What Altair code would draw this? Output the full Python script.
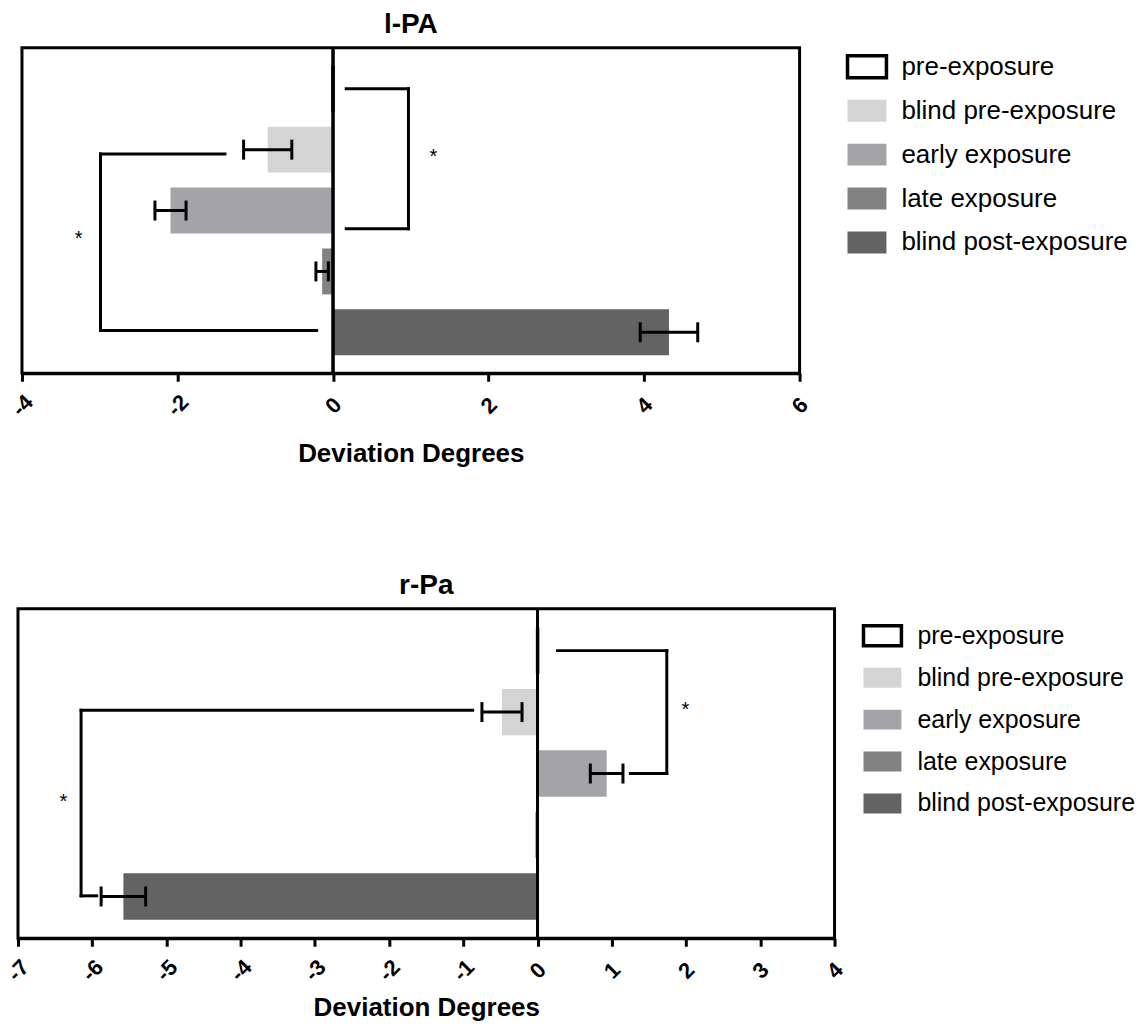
import altair as alt
import pandas as pd

FONT = "Liberation Sans"

categories = ["pre-exposure", "blind pre-exposure", "early exposure", "late exposure", "blind post-exposure"]
fill_colors = ["#ffffff", "#d4d4d4", "#a4a4a8", "#828282", "#636363"]
stroke_colors = ["#000000", "transparent", "transparent", "transparent", "transparent"]

# l-PA panel
lpa_mean = [0.0, -0.84, -2.09, -0.14, 4.32]
lpa_sem = [0.0, 0.31, 0.20, 0.08, 0.37]
lpa_ticks = [-4, -2, 0, 2, 4, 6]
lpa_br_top = [0.0, 1.07]
lpa_br_bottom = [2.3, 3.97]
lpa_br_vx = [0.97, -2.99]
lpa_br_top_end = [0.17, -1.39]
lpa_br_bottom_end = [0.17, -0.21]
lpa_star_x = [1.29, -3.27]
lpa_star_y = [1.08, 2.44]

# r-Pa panel
rpa_mean = [0.0, -0.48, 0.93, -0.03, -5.58]
rpa_sem = [0.0, 0.27, 0.22, 0.0, 0.30]
rpa_ticks = [-7, -6, -5, -4, -3, -2, -1, 0, 1, 2, 3, 4]
rpa_br_top = [0.0, 0.97]
rpa_br_bottom = [2.0, 3.99]
rpa_br_vx = [1.74, -6.15]
rpa_br_top_end = [0.27, -0.875]
rpa_br_bottom_end = [1.25, -5.94]
rpa_star_x = [1.99, -6.39]
rpa_star_y = [0.94, 2.43]


def panel(title, mean, sem, ticks, br_top, br_bottom, br_vx, br_top_end, br_bottom_end,
          star_x, star_y, width, height, ydom, leg_x, leg_y, leg_font, leg_offset,
          sym_path, sym_size, row_pad, title_pad):
    bars = pd.DataFrame({"cat": categories, "idx": list(range(len(categories))),
                         "mean": mean, "sem": sem})
    bars["lo"] = bars["mean"] - bars["sem"]
    bars["hi"] = bars["mean"] + bars["sem"]
    errs = bars[bars["sem"] > 0]

    segs = []
    for t, b, vx, te, be in zip(br_top, br_bottom, br_vx, br_top_end, br_bottom_end):
        segs.append({"x": te, "x2": vx, "y": t, "y2": t})
        segs.append({"x": vx, "x2": vx, "y": t, "y2": b})
        segs.append({"x": be, "x2": vx, "y": b, "y2": b})
    segs = pd.DataFrame(segs)
    stars = pd.DataFrame({"x": star_x, "y": star_y, "t": ["*"] * len(star_x)})

    xscale = alt.Scale(domain=[ticks[0], ticks[-1]], nice=False, zero=False)
    yscale = alt.Scale(domain=ydom, reverse=True, nice=False, zero=False)
    xaxis = alt.Axis(values=ticks, title="Deviation Degrees", grid=False,
                     labelExpr="datum.value < 0 ? '-' + abs(datum.value) : '' + datum.value",
                     labelAngle=-45, labelAlign="center", labelBaseline="middle",
                     labelPadding=24, labelFont=FONT, labelFontSize=22, labelFontWeight="bold",
                     labelColor="black", labelFlush=False, labelOverlap=False,
                     tickColor="black", tickWidth=3, tickSize=8,
                     domainColor="black", domainWidth=3,
                     titleFont=FONT, titleFontSize=26, titleFontWeight="bold",
                     titleColor="black", titlePadding=title_pad)

    leg = dict(title=None, orient="none", legendX=leg_x, legendY=leg_y,
               symbolType=sym_path, symbolSize=sym_size,
               symbolStrokeWidth=3.5, symbolOpacity=1,
               labelFont=FONT, labelFontSize=leg_font, labelColor="black",
               labelOffset=leg_offset, rowPadding=row_pad, padding=0, labelLimit=400)

    rect = alt.Chart(bars).mark_rect(strokeWidth=3.5, opacity=1).transform_calculate(
        y0="datum.idx - 0.377", y1="datum.idx + 0.377", zero="0"
    ).encode(
        x=alt.X("mean:Q", scale=xscale, axis=xaxis),
        x2=alt.X2("zero:Q"),
        y=alt.Y("y0:Q", scale=yscale, axis=None),
        y2="y1:Q",
        fill=alt.Fill("cat:N", scale=alt.Scale(domain=categories, range=fill_colors),
                      legend=alt.Legend(**leg)),
        stroke=alt.Stroke("cat:N", scale=alt.Scale(domain=categories, range=stroke_colors),
                          legend=alt.Legend(**leg)),
    )
    zero_line = alt.Chart(bars).mark_rule(color="black", strokeWidth=2.5).encode(
        x=alt.X(datum=0, scale=xscale, axis=xaxis)
    )
    err_line = alt.Chart(errs).mark_rule(color="black", strokeWidth=3).encode(
        x=alt.X("lo:Q", scale=xscale, axis=xaxis), x2="hi:Q",
        y=alt.Y("idx:Q", scale=yscale, axis=None)
    )
    cap_lo = alt.Chart(errs).mark_tick(color="black", orient="vertical", size=20,
                                       thickness=3, opacity=1).encode(
        x=alt.X("lo:Q", scale=xscale, axis=xaxis), y=alt.Y("idx:Q", scale=yscale, axis=None)
    )
    cap_hi = alt.Chart(errs).mark_tick(color="black", orient="vertical", size=20,
                                       thickness=3, opacity=1).encode(
        x=alt.X("hi:Q", scale=xscale, axis=xaxis), y=alt.Y("idx:Q", scale=yscale, axis=None)
    )
    brackets = alt.Chart(segs).mark_rule(color="black", strokeWidth=3, strokeCap="square").encode(
        x=alt.X("x:Q", scale=xscale, axis=xaxis), x2="x2:Q",
        y=alt.Y("y:Q", scale=yscale, axis=None), y2="y2:Q"
    )
    star_text = alt.Chart(stars).mark_text(font=FONT, fontSize=20, color="black",
                                           align="center", baseline="middle", dy=2).encode(
        x=alt.X("x:Q", scale=xscale, axis=xaxis), y=alt.Y("y:Q", scale=yscale, axis=None),
        text="t:N"
    )
    return alt.layer(rect, zero_line, err_line, cap_lo, cap_hi, brackets, star_text).properties(
        width=width, height=height,
        title=alt.TitleParams(title, font=FONT, fontSize=28, fontWeight="bold",
                              color="black", anchor="middle", offset=8)
    )


top = panel("l-PA", lpa_mean, lpa_sem, lpa_ticks, lpa_br_top, lpa_br_bottom, lpa_br_vx,
            lpa_br_top_end, lpa_br_bottom_end, lpa_star_x, lpa_star_y,
            779, 326, [-0.672, 4.672], 829, -2.5, 26, 13,
            "M-1,-0.564H1V0.564H-1Z", 1521, 4, 21)
bottom = panel("r-Pa", rpa_mean, rpa_sem, rpa_ticks, rpa_br_top, rpa_br_bottom, rpa_br_vx,
               rpa_br_top_end, rpa_br_bottom_end, rpa_star_x, rpa_star_y,
               818, 330, [-0.68, 4.68], 845, 6, 25, 14,
               "M-1,-0.526H1V0.526H-1Z", 1444, 4, 10)

# invisible 1px spacer that nudges the upper panel a few pixels to the right
spacer = alt.Chart(pd.DataFrame({"a": [0]})).mark_point(opacity=0).encode(
    x=alt.X("a:Q", axis=None), y=alt.Y("a:Q", axis=None)
).properties(width=1, height=1, view=alt.ViewBackground(strokeWidth=0, stroke="transparent"))

top_row = alt.hconcat(spacer, top, spacing=-17.8)

chart = alt.vconcat(top_row, bottom, spacing=101).resolve_scale(
    fill="independent", stroke="independent"
).properties(
    padding={"left": -7, "top": 0, "right": 0, "bottom": 0},
    background="white"
).configure_view(stroke="black", strokeWidth=3)

chart.save("out.html", embed_options={"renderer": "svg", "actions": False})
